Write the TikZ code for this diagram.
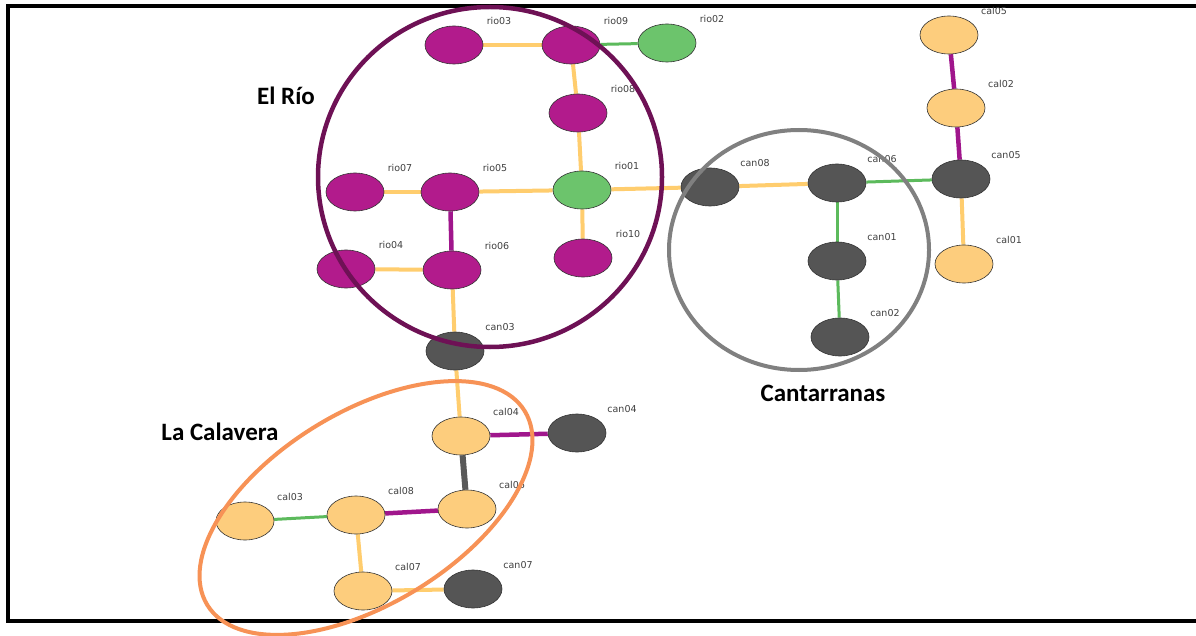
\documentclass[tikz,border=0pt]{standalone}
\usepackage{fontspec}
\setmainfont{Carlito}
\newfontfamily\labfont{DejaVu Sans}
\usetikzlibrary{shapes.geometric}
\pgfdeclarelayer{back}
\pgfdeclarelayer{bg}
\pgfsetlayers{back,bg,main}
\definecolor{cMag}{RGB}{178,27,140}
\definecolor{cGrn}{RGB}{108,196,108}
\definecolor{cGry}{RGB}{85,85,85}
\definecolor{cPch}{RGB}{253,205,125}
\definecolor{eOra}{RGB}{255,205,110}
\definecolor{ePur}{RGB}{160,22,140}
\definecolor{eGrn}{RGB}{92,186,92}
\definecolor{cRio}{RGB}{110,17,85}
\definecolor{cCan}{RGB}{128,128,128}
\definecolor{cCal}{RGB}{247,146,86}
\newcommand\gnode[4]{\node[#1] (#2) at (#3) {};
  \node[lab] (#2l) at ([shift={(45,-24)}]#2.center) {#4};}
\begin{document}
\begin{tikzpicture}[x=1pt,y=-1pt,
  nd/.style={ellipse, draw=black!80, line width=0.6pt, minimum width=58pt, minimum height=38pt, inner sep=0pt},
  mag/.style={nd, fill=cMag},
  grn/.style={nd, fill=cGrn},
  gry/.style={nd, fill=cGry},
  pch/.style={nd, fill=cPch},
  lab/.style={font=\labfont\fontsize{9.5}{10}\selectfont, text=black!75, inner sep=0pt},
  eo/.style={line width=4pt, draw=eOra},
  ep/.style={line width=4.5pt, draw=ePur},
  eg/.style={line width=3pt, draw=eGrn},
  ek/.style={line width=6pt, draw=black!65},
  title/.style={font=\bfseries\fontsize{25}{30}\selectfont, inner sep=0pt},
  grp/.style={line width=4.5pt}]
\useasboundingbox (0,0) rectangle (1196,636);
\begin{pgfonlayer}{back}
\fill[white] (0,0) rectangle (1196,636);
\end{pgfonlayer}
\draw[line width=4pt] (1210,6) -- (8,6) -- (8,621) -- (1210,621);

% nodes
\gnode{mag}{rio03}{454,45}{rio03}
\gnode{mag}{rio09}{571,45}{rio09}
\gnode{grn}{rio02}{667,43}{rio02}
\gnode{mag}{rio08}{578,113}{rio08}
\gnode{mag}{rio07}{355,192}{rio07}
\gnode{mag}{rio05}{450,192}{rio05}
\gnode{grn}{rio01}{582,190}{rio01}
\gnode{mag}{rio04}{346,269}{rio04}
\gnode{mag}{rio06}{452,270}{rio06}
\gnode{mag}{rio10}{583,258}{rio10}
\gnode{gry}{can08}{710,187}{can08}
\gnode{gry}{can06}{837,183}{can06}
\gnode{gry}{can05}{961,179}{can05}
\gnode{gry}{can01}{837,261}{can01}
\gnode{gry}{can02}{840,337}{can02}
\gnode{pch}{cal05}{949,35}{cal05}
\gnode{pch}{cal02}{956,108}{cal02}
\gnode{pch}{cal01}{964,264}{cal01}
\gnode{gry}{can03}{455,351}{can03}
\gnode{pch}{cal04}{461,436}{cal04}
\gnode{gry}{can04}{577,433}{can04}
\gnode{pch}{cal06}{467,509}{cal06}
\gnode{pch}{cal08}{356,515}{cal08}
\gnode{pch}{cal03}{245,521}{cal03}
\gnode{pch}{cal07}{363,591}{cal07}
\gnode{gry}{can07}{473,589}{can07}

% edges
\begin{pgfonlayer}{bg}
\draw[eo] (rio03) -- (rio09);
\draw[eg] (rio09) -- (rio02);
\draw[eo] (rio09) -- (rio08);
\draw[eo] (rio08) -- (rio01);
\draw[eo] (rio07) -- (rio05);
\draw[eo] (rio05) -- (rio01);
\draw[ep] (rio05) -- (rio06);
\draw[eo] (rio04) -- (rio06);
\draw[eo] (rio01) -- (rio10);
\draw[eo] (rio01) -- (can08);
\draw[eo] (can08) -- (can06);
\draw[eg] (can06) -- (can05);
\draw[eg] (can06) -- (can01);
\draw[eg] (can01) -- (can02);
\draw[ep] (can05) -- (cal02);
\draw[ep] (cal02) -- (cal05);
\draw[eo] (can05) -- (cal01);
\draw[eo] (rio06) -- (can03);
\draw[eo] (can03) -- (cal04);
\draw[ep] (cal04) -- (can04);
\draw[ek] (cal04) -- (cal06);
\draw[ep] (cal06) -- (cal08);
\draw[eg] (cal08) -- (cal03);
\draw[eo] (cal08) -- (cal07);
\draw[eo] (cal07) -- (can07);
\end{pgfonlayer}

% group outlines
\draw[grp, cRio] (490,177) ellipse [x radius=172, y radius=170];
\draw[grp, cCan, line width=4pt] (799,250) ellipse [x radius=130, y radius=120];
\draw[grp, cCal, line width=4pt] (366,508) ellipse [x radius=186, y radius=96, rotate=31.4];

% titles
\node[title] (trio) at (286,96) {El Río};
\node[title] (tcan) at (823,393) {Cantarranas};
\node[title] (tcal) at (220,432) {La Calavera};
\end{tikzpicture}
\end{document}
